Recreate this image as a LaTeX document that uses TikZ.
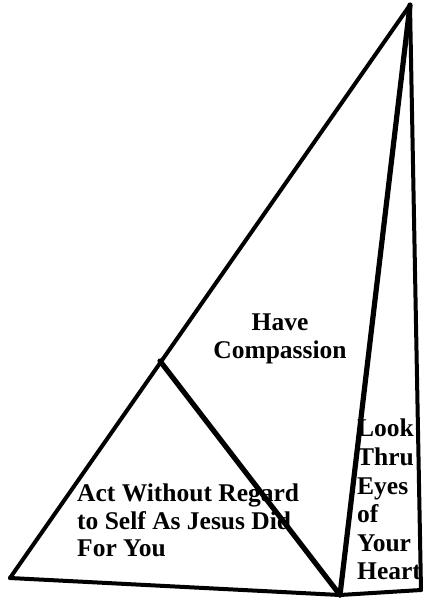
\documentclass[tikz,border=0pt]{standalone}
\usepackage{fontspec}
\setmainfont{Liberation Serif}
\begin{document}
\begin{tikzpicture}[x=1pt,y=-1pt,
  edge/.style={line width=4pt,line cap=round,line join=round},
  thickedge/.style={line width=5.2pt,line cap=round,line join=round},
  label/.style={inner sep=0pt,font=\bfseries\fontsize{25.5}{27.5}\selectfont}]
\useasboundingbox (0,0) rectangle (425,598);
\coordinate (A) at (410,5);
\coordinate (L) at (10,578);
\coordinate (B) at (340,595);
\coordinate (R) at (421,590);
\coordinate (T) at (160,361);
\draw[edge] (L) -- (A);
\draw[edge] (A) -- (R);
\draw[edge] (L) -- (B);
\draw[edge] (B) -- (R);
\draw[thickedge] (A) -- (B);
\draw[thickedge] (T) -- (B);
\node[label,align=center,anchor=north] (have) at (280,314) {Have\\Compassion};
\node[label,align=left,anchor=north west] (act) at (77,484) {Act Without Regard\\to Self As Jesus Did\\For You};
\node[label,align=left,anchor=north west,font=\bfseries\fontsize{25.5}{28.6}\selectfont] (look) at (357,419) {Look\\Thru\\Eyes\\of\\Your\\Heart};
\end{tikzpicture}
\end{document}
